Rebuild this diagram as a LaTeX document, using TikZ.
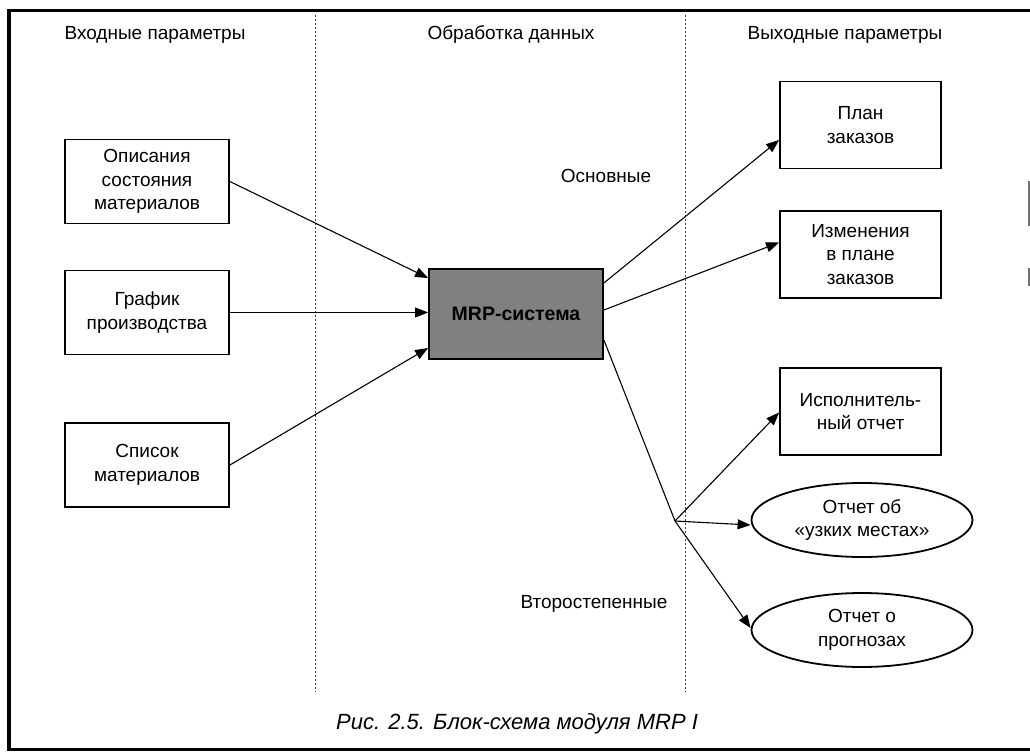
\documentclass[tikz,border=0pt]{standalone}
\usepackage{fontspec}
\setmainfont{Liberation Sans}
\usetikzlibrary{arrows.meta,shapes.geometric}
\begin{document}
\begin{tikzpicture}[x=1pt,y=-1pt,
  every node/.style={font=\fontsize{19}{23.5}\selectfont},
  txt/.style={align=center, inner sep=0pt},
  inbox/.style={draw, line width=1.8pt, minimum width=164pt, minimum height=84pt, align=center, inner sep=2pt},
  outbox/.style={draw, line width=1.8pt, minimum width=161pt, minimum height=87pt, align=center, inner sep=2pt},
  outell/.style={draw, ellipse, line width=1.8pt, minimum width=221pt, minimum height=74pt, align=center, inner sep=0pt},
  core/.style={draw, line width=1.8pt, fill=black!50, minimum width=174pt, minimum height=90pt,
    font=\fontsize{19.5}{23}\selectfont\bfseries},
  conn/.style={line width=1.1pt, -{Triangle[length=13pt,width=10pt]}},
  wire/.style={line width=1.1pt},
  divider/.style={line width=0.8pt, black!75, dash pattern=on 2.2pt off 1.8pt},
  frameline/.style={line width=3.5pt}
]
\useasboundingbox (0,0) rectangle (1030,754);

% page frame
\draw[frameline] (9,9) -- (9,751);
\draw[line width=3pt] (7,11) -- (1030,11);
\draw[line width=3pt] (7,749) -- (1030,749);
\draw[black!55, line width=1.2pt] (1029,181) -- (1029,226) (1029,268) -- (1029,286);

% column dividers
\draw[divider] (315,15) -- (315,692);
\draw[divider] (685,15) -- (685,692);

% column headings
\node[txt] (hin)  at (155,35) {Входные параметры};
\node[txt] (hpro) at (511,35) {Обработка данных};
\node[txt] (hout) at (845,35) {Выходные параметры};

% inputs
\node[inbox] (desc)  at (147,181.5) {Описания\\состояния\\материалов};
\node[inbox] (sched) at (147,312.5) {График\\производства};
\node[inbox] (bom)   at (147,465)   {Список\\материалов};

% processing
\node[core] (mrp) at (516,314) {MRP-система};

% outputs
\node[outbox] (plan) at (860.5,125)   {План\\заказов};
\node[outbox] (chg)  at (860.5,254.5) {Изменения\\в плане\\заказов};
\node[outbox] (perf) at (860.5,411.5) {Исполнитель-\\ный отчет};
\node[outell] (bott) at (862,520) {Отчет об\\«узких местах»};
\node[outell] (fcst) at (862,630) {Отчет о\\прогнозах};

% group labels
\node[txt] (main) at (606,176) {Основные};
\node[txt] (sec)  at (594,604) {Второстепенные};

% caption
\node[txt, anchor=west, font=\fontsize{22}{26}\selectfont\itshape] (cap) at (336,724)
  {Рис. 2.5. Блок-схема модуля MRP I};

% input connectors
\draw[conn] (desc.east) -- ([yshift=36pt]mrp.west);
\draw[conn] (sched.east) -- (sched.east -| mrp.west);
\draw[conn] (bom.east) -- ([yshift=-34pt]mrp.west);

% main outputs
\draw[conn] ([yshift=31pt]mrp.east) -- ([yshift=-15pt]plan.west);
\draw[conn] ([yshift=4pt]mrp.east) -- ([yshift=12pt]chg.west);

% secondary outputs via branch point
\coordinate (br) at (675,521);
\draw[wire] ([yshift=-26pt]mrp.east) -- (br);
\draw[conn] (br) -- ([yshift=-1pt]perf.west);
\draw[conn] (br) -- ([yshift=-5pt]bott.west);
\draw[conn] (br) -- ([yshift=2pt]fcst.west);
\end{tikzpicture}
\end{document}
